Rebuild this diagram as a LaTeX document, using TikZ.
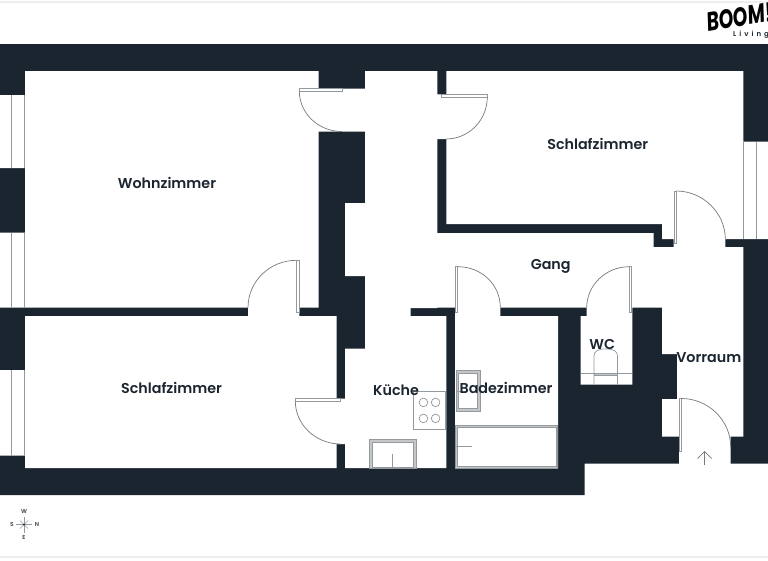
\documentclass[tikz,border=0pt]{standalone}
\usepackage{fontspec}
\setmainfont{Poppins}
\newfontfamily\lab{Poppins SemiBold}
\newfontfamily\logofont{Poppins}[ItalicFont={Poppins Bold Italic}]
\definecolor{wall}{HTML}{1B2530}
\definecolor{fix}{HTML}{94999D}
\definecolor{band}{HTML}{C4C6C8}
\definecolor{edge}{HTML}{EDEEEF}
\tikzset{
  wallfill/.style={fill=wall},
  roomfill/.style={fill=white},
  fixt/.style={draw=fix,line width=0.7pt},
  leaf/.style={draw=fix,fill=white,line width=0.7pt},
  swing/.style={draw=fix!80!black,line width=0.7pt},
  room/.style={font=\lab\fontsize{14.3}{16}\selectfont,text=wall,inner sep=0pt},
  compass/.style={font=\lab\fontsize{5.8}{6}\selectfont,text=wall!85,inner sep=0pt},
  ray/.style={draw=fix,line width=0.4pt}
}
\begin{document}
\begin{tikzpicture}[x=1pt,y=-1pt]
\useasboundingbox (0,0) rectangle (768,560);
\fill[white] (0,0) rectangle (768,560);
\draw[edge,line width=1.2pt] (0,2) -- (768,2);
\draw[edge,line width=1.2pt] (0,557) -- (768,557);
% masonry
\fill[wallfill] (0,44) -- (768,44) -- (768,463.5) -- (584.7,463.5) -- (584.7,495) -- (0,495) -- cycle;
% rooms and openings
\fill[roomfill]
 (25,71) rectangle (318.5,307.7)
 (318.5,88.5) rectangle (365,131.5)
 (365,71) rectangle (437.3,308)
 (345,203) rectangle (365,276)
 (365,307) rectangle (410.7,317)
 (345,348.5) rectangle (365,468)
 (365,316) rectangle (446.3,468)
 (437,233) rectangle (653.5,307.7)
 (653.5,247) rectangle (743.3,307.7)
 (446.3,71) rectangle (743.3,224)
 (662,224) rectangle (743.3,239)
 (673.5,238) rectangle (725.3,248)
 (662,307) rectangle (743.3,354)
 (677,353) rectangle (743.3,400)
 (662,399) rectangle (743.3,436.7)
 (679,436) rectangle (730.7,464)
 (437,94.3) rectangle (447,139)
 (248,307) rectangle (299.3,317)
 (336.7,398.5) rectangle (346,444)
 (455,307) rectangle (500.3,317)
 (455,316) rectangle (558,468)
 (580.7,316) rectangle (632.3,384.7)
 (586.7,307) rectangle (632.3,317)
 (25,316) rectangle (336.7,468)
 (0,95) rectangle (25,168)
 (0,232.5) rectangle (25,307.7)
 (0,370) rectangle (25,455.7)
 (743.3,141.5) rectangle (768,239);
% windows
\foreach \xa/\ya/\yb in {11.5/95/168,24.8/95/168,11.5/232.5/307.7,24.8/232.5/307.7,11.5/370/455.7,24.8/370/455.7,743.3/141.5/239,756.3/141.5/239}
  \draw[fixt] (\xa,\ya) -- (\xa,\yb);
% doors
\draw[leaf] (299.3,88.7) rectangle (342,91);
\draw[swing] (299.3,91) .. controls (299.3,113.4) and (318.4,131.5) .. (342,131.5);
\draw[leaf] (441.3,94.3) rectangle (487.3,96.9);
\draw[swing] (487.3,97) .. controls (487.3,120) and (469,139) .. (446,139);
\draw[leaf] (674,191) rectangle (676.3,243);
\draw[swing] (676.3,191) .. controls (703,191) and (725.3,213) .. (725.3,239);
\draw[leaf] (455.3,266.7) rectangle (457.8,312);
\draw[swing] (457.8,266.7) .. controls (481,266.7) and (500.3,284) .. (500.3,307.7);
\draw[leaf] (629.2,266.7) rectangle (631.8,312);
\draw[swing] (629.2,266.7) .. controls (606,266.7) and (586.7,285) .. (586.7,307.7);
\draw[leaf] (296.5,260.3) rectangle (299.3,312.3);
\draw[swing] (296.5,260.3) .. controls (270,260.3) and (248,281) .. (248,307.7);
\draw[leaf] (295.3,398.4) rectangle (340.7,401);
\draw[swing] (295.3,401) .. controls (295.3,425) and (316,444) .. (340.7,444);
\draw[leaf] (679,398.5) rectangle (681.5,451);
\draw[swing] (681.5,398.5) .. controls (708,398.5) and (730.7,420) .. (730.7,447);
% entrance arrow
\draw[swing] (704.7,465) -- (704.7,451.5);
\draw[swing] (697.7,458.5) -- (704.7,451.5) -- (711.7,458.5);
% kitchen
\draw[fixt] (413.4,391.4) rectangle (445.6,429);
\foreach \cx/\cy in {423.4/402.4,435.6/402.4,423.4/418.4,435.6/418.4}
  \draw[fixt] (\cx,\cy) circle[radius=4.3pt];
\draw[fixt,fill=band] (369.4,439.6) rectangle (416.4,468);
\draw[fixt,fill=white] (372.2,442.3) rectangle (413.4,467);
\draw[fixt] (392.7,454) -- (392.7,468);
% bath
\draw[fixt,fill=band] (456,370.8) rectangle (480,411.3);
\draw[fixt,fill=white] (458.8,373.6) rectangle (477.2,408.4);
\draw[fixt] (456,391) -- (467,391);
\draw[fixt,fill=band] (455.7,425.2) rectangle (557.8,468);
\draw[fixt,fill=white] (457.3,426.9) rectangle (556,466.6);
\draw[fixt] (456,446.3) -- (471.7,446.3);
% wc
\draw[fixt] (580.7,373.2) -- (632.3,373.2);
\draw[fixt,fill=band] (594,373.2) rectangle (617.5,375.8);
\draw[fixt] (594,384.7) -- (594,356) .. controls (594,351) and (598,349) .. (605.7,349) .. controls (613.5,349) and (617.5,351) .. (617.5,356) -- (617.5,384.7);
% labels
\node[room] (wohn) at (167,182.5) {Wohnzimmer};
\node[room] (schlafa) at (597.7,143.5) {Schlafzimmer};
\node[room] (gang) at (550.7,266.5) {Gang};
\node[room] (schlafb) at (171.5,388) {Schlafzimmer};
\node[room] (kueche) at (396,390.2) {Küche};
\node[room] (bad) at (506,387.5) {Badezimmer};
\node[room] (wc) at (602.3,344) {WC};
\node[room] (vor) at (708.8,357.5) {Vorraum};
% logo
\node[inner sep=0pt,rotate=9,anchor=west,text=black,xscale=0.78,yscale=1.1] (boom) at (706.5,22) {\logofont\itshape\fontsize{24}{26}\selectfont BOOM!};
\node[inner sep=0pt,anchor=west,text=wall] (living) at (733,34.5) {\lab\fontsize{7}{8}\selectfont L\hspace{3pt}i\hspace{3pt}v\hspace{3pt}i\hspace{3pt}n\hspace{3pt}g};
% compass
\coordinate (cc) at (24,524.5);
\draw[ray] (16,524.5) -- (32,524.5);
\draw[ray] (24,516.5) -- (24,532.5);
\draw[ray] (20,520.5) -- (28,528.5);
\draw[ray] (20,528.5) -- (28,520.5);
\fill[wall] (cc) circle[radius=1pt];
\node[compass] (cw) at (24,511.7) {W};
\node[compass] (cs) at (12,524.5) {S};
\node[compass] (cn) at (37,524.5) {N};
\node[compass] (ce) at (24,537.2) {E};
\end{tikzpicture}
\end{document}
